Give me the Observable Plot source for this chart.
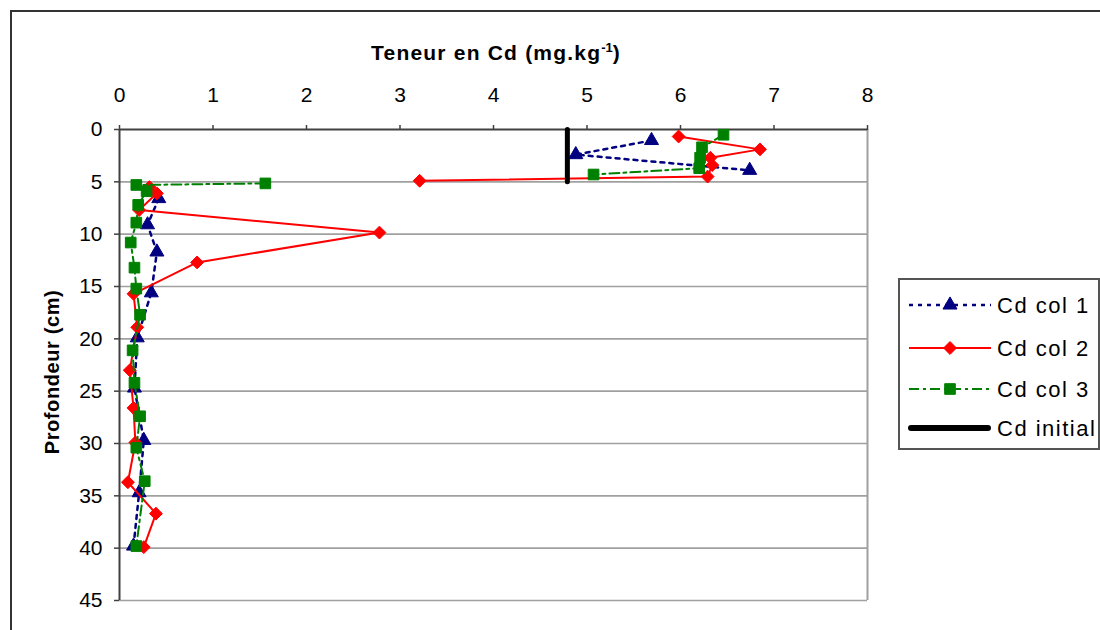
<!DOCTYPE html>
<html><head><meta charset="utf-8">
<script src="https://cdn.jsdelivr.net/npm/d3@7"></script>
<script src="https://cdn.jsdelivr.net/npm/@observablehq/plot@0.6"></script>
<style>
body{margin:0;background:#fff;font-family:"Liberation Sans",Arial,sans-serif;}
#wrap{position:relative;width:1100px;height:630px;overflow:hidden;background:#fff;}
#frame{position:absolute;left:10px;top:10px;width:1200px;height:700px;border-left:2px solid #333;border-top:2px solid #333;pointer-events:none;}
#chart{position:absolute;left:0;top:0;}
#xtitle{position:absolute;left:496px;top:42px;transform:translateX(-50%);font-weight:bold;font-size:21px;line-height:21px;letter-spacing:1.2px;white-space:nowrap;color:#000;}
#xtitle sup{font-size:13px;vertical-align:0;position:relative;top:-8px;letter-spacing:0;}
#ytitle{position:absolute;left:52px;top:372px;transform:translate(-50%,-50%) rotate(-90deg);font-weight:bold;font-size:20px;line-height:20px;letter-spacing:0.6px;white-space:nowrap;color:#000;}
#legend{position:absolute;left:898px;top:278px;width:198px;height:168px;border:2px solid #555;background:#fff;}
.row{position:absolute;left:0;height:30px;width:198px;}
.row svg{position:absolute;left:8px;top:0;}
.row span{position:absolute;left:97px;top:3px;font-size:22px;line-height:24px;letter-spacing:1.5px;white-space:nowrap;color:#000;}
</style>
</head><body>
<div id="wrap">
  <div id="chart"></div>
  <div id="frame"></div>
  <div id="xtitle">Teneur en Cd (mg.kg<sup>-1</sup>)</div>
  <div id="ytitle">Profondeur (cm)</div>
  <div id="legend"></div>
</div>
<script>
// ---- data ----
const xTicks = [0, 1, 2, 3, 4, 5, 6, 7, 8];
const yTicks = [0, 5, 10, 15, 20, 25, 30, 35, 40, 45];

const seriesNames = ["Cd col 1", "Cd col 2", "Cd col 3", "Cd initial"];

const col1Depth = [1.05, 2.4, 3.9, 6.6, 9.1, 11.7, 15.6, 19.9, 24.7, 29.7, 34.7, 39.8];
const col1Cd    = [5.69, 4.88, 6.74, 0.42, 0.30, 0.40, 0.34, 0.19, 0.16, 0.26, 0.21, 0.15];
const col1Seg   = [0, 0, 0, 1, 1, 1, 1, 1, 1, 1, 1, 1];

const col2Depth = [0.67, 1.9, 2.7, 3.4, 4.5, 4.9, 5.5, 6.1, 7.7, 9.85, 12.7, 15.7, 18.9, 23.0, 26.6, 29.9, 33.7, 36.7, 39.9];
const col2Cd    = [5.98, 6.85, 6.32, 6.34, 6.29, 3.21, 0.32, 0.40, 0.21, 2.78, 0.83, 0.15, 0.19, 0.11, 0.15, 0.17, 0.09, 0.39, 0.26];
const col2Seg   = [0, 0, 0, 0, 0, 0, 1, 1, 1, 1, 1, 1, 1, 1, 1, 1, 1, 1, 1];

const col3Depth = [0.5, 1.7, 2.7, 3.7, 4.3, 5.15, 5.3, 5.9, 7.2, 8.9, 10.8, 13.2, 15.2, 17.7, 21.1, 24.2, 27.4, 30.4, 33.6, 39.8];
const col3Cd    = [6.46, 6.23, 6.21, 6.20, 5.07, 1.56, 0.18, 0.29, 0.20, 0.18, 0.12, 0.16, 0.18, 0.22, 0.14, 0.16, 0.22, 0.18, 0.27, 0.18];
const col3Seg   = [0, 0, 0, 0, 0, 1, 1, 1, 1, 1, 1, 1, 1, 1, 1, 1, 1, 1, 1, 1];

const initDepth = [0, 5];
const initCd    = [4.79, 4.79];

// ---- build tables ----
const toRows = (depth, cd, seg) => depth.map((d, i) => ({depth: d, cd: cd[i], seg: seg ? seg[i] : 0}));
const col1 = toRows(col1Depth, col1Cd, col1Seg);
const col2 = toRows(col2Depth, col2Cd, col2Seg);
const col3 = toRows(col3Depth, col3Cd, col3Seg);
const init = toRows(initDepth, initCd);

const NAVY = "#000080", RED = "#ff0000", GREEN = "#008000";
const styles = [
  {color: NAVY, dash: "4,5", width: 2.5, symbol: "triangle", r: 5.2},
  {color: RED, dash: null, width: 2, symbol: "diamond2", r: 5.8},
  {color: GREEN, dash: "10,4,3,4", width: 2, symbol: "square", r: 6},
  {color: "#000", dash: null, width: 5, symbol: null, r: 0}
];

const lineMark = (data, s) => Plot.line(data, {x: "cd", y: "depth", z: "seg", stroke: s.color, strokeWidth: s.width, strokeDasharray: s.dash || undefined});
const dotMark = (data, s) => Plot.dot(data, {x: "cd", y: "depth", symbol: () => s.symbol, r: s.r, fill: s.color, stroke: s.color, strokeWidth: 1});

const chart = Plot.plot({
  width: 1100, height: 630,
  marginLeft: 119, marginRight: 233, marginTop: 129, marginBottom: 30,
  style: {fontFamily: '"Liberation Sans", Arial, sans-serif', fontSize: "21px", color: "#000", background: "transparent", overflow: "visible"},
  x: {domain: [0, 8]},
  y: {domain: [0, 45], reverse: true},
  symbol: {type: "identity"},
  marks: [
    Plot.ruleY(yTicks.filter(d => d > 0), {stroke: "#a0a0a0", strokeWidth: 1.6}),
    Plot.ruleX([8], {stroke: "#a0a0a0", strokeWidth: 2}),
    Plot.axisX({anchor: "top", ticks: xTicks, tickSize: 5, tickPadding: 23, label: null, stroke: "#404040", strokeWidth: 1.5, tickFormat: d => String(d)}),
    Plot.axisY({anchor: "left", ticks: yTicks, tickSize: 5, tickPadding: 12, label: null, stroke: "#404040", strokeWidth: 1.5, tickFormat: d => String(d)}),
    Plot.ruleX([0], {stroke: "#404040", strokeWidth: 2}),
    Plot.ruleY([0], {stroke: "#404040", strokeWidth: 2}),
    lineMark(col1, styles[0]), dotMark(col1, styles[0]),
    lineMark(col2, styles[1]), dotMark(col2, styles[1]),
    lineMark(col3, styles[2]), dotMark(col3, styles[2]),
    Plot.line(init, {x: "cd", y: "depth", stroke: "#000", strokeWidth: 5, strokeLinecap: "round"})
  ]
});
document.getElementById("chart").appendChild(chart);

// ---- legend ----
const legend = document.getElementById("legend");
const rowTops = [11, 54, 95, 134];
const symArea = r => r * r * Math.PI;
const d3Sym = {triangle: d3.symbolTriangle, diamond2: d3.symbolDiamond2, square: d3.symbolSquare};
seriesNames.forEach((name, i) => {
  const s = styles[i];
  const row = document.createElement("div");
  row.className = "row";
  row.style.top = rowTops[i] + "px";
  let svg = `<svg width="86" height="30" viewBox="0 0 86 30">`;
  if (i === 3) {
    svg += `<line x1="3" x2="80" y1="14" y2="14" stroke="#000" stroke-width="6" stroke-linecap="round"/>`;
  } else {
    svg += `<line x1="1" x2="83" y1="14" y2="14" stroke="${s.color}" stroke-width="${s.width}" ${s.dash ? `stroke-dasharray="${s.dash}"` : ""}/>`;
    const p = d3.symbol(d3Sym[s.symbol], symArea(s.r))();
    svg += `<path transform="translate(42,14)" d="${p}" fill="${s.color}" stroke="${s.color}"/>`;
  }
  svg += `</svg>`;
  row.innerHTML = svg + `<span>${name}</span>`;
  legend.appendChild(row);
});
</script>
</body></html>
